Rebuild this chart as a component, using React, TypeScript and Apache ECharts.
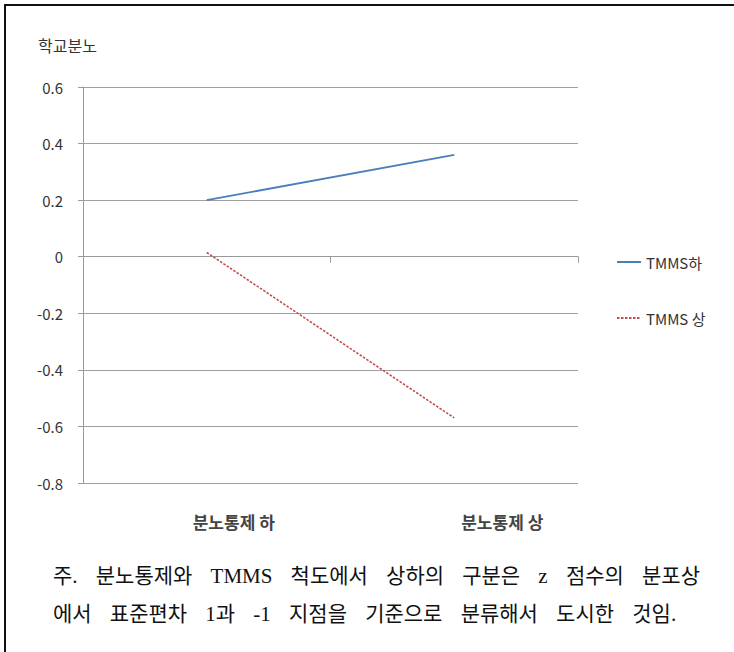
import React, { useEffect, useRef } from "react";
import * as echarts from "echarts";

const categories = ["분노통제 하", "분노통제 상"];
const seriesNames = ["TMMS하", "TMMS 상"];
const tmmsLow = [0.2, 0.36];
const tmmsHigh = [0.015, -0.57];
const yAxisTitle = "학교분노";
const noteLine1 = ["주.", "분노통제와", "TMMS", "척도에서", "상하의", "구분은", "z", "점수의", "분포상"];
const noteLine2 = ["에서", "표준편차", "1과", "-1", "지점을", "기준으로", "분류해서", "도시한", "것임."];

const SANS = "'Noto Sans CJK KR', 'Noto Sans', sans-serif";
const SERIF = "'Liberation Serif', 'Noto Sans CJK KR', serif";

export default function App() {
  const ref = useRef<HTMLDivElement>(null);
  useEffect(() => {
    document.body.style.margin = "0";
    if (!ref.current) return;
    const chart = echarts.init(ref.current, null, { renderer: "svg" });

    const noteSize = 21;
    const cv = document.createElement("canvas");
    const ctx = cv.getContext("2d")!;
    ctx.font = `${noteSize}px ${SERIF}`;
    const w1 = noteLine1.map((w) => ctx.measureText(w).width);
    const sum1 = w1.reduce((a, b) => a + b, 0);
    const startX = 53;
    const endX1 = 700;
    const gap = (endX1 - startX - sum1) / (noteLine1.length - 1);
    const noteTexts: any[] = [];
    let x = startX;
    noteLine1.forEach((w, i) => {
      noteTexts.push({
        type: "text",
        x,
        y: 576,
        style: { text: w, font: `${noteSize}px ${SERIF}`, fill: "#111", verticalAlign: "middle", align: "left" },
      });
      x += w1[i] + gap;
    });
    x = startX;
    const w2 = noteLine2.map((w) => ctx.measureText(w).width);
    noteLine2.forEach((w, i) => {
      noteTexts.push({
        type: "text",
        x,
        y: 614,
        style: { text: w, font: `${noteSize}px ${SERIF}`, fill: "#111", verticalAlign: "middle", align: "left" },
      });
      x += w2[i] + gap;
    });

    chart.setOption({
      animation: false,
      backgroundColor: "#fff",
      grid: { left: 83, right: 156, top: 87, bottom: 169, containLabel: false },
      legend: {
        orient: "vertical",
        left: 611,
        top: 249,
        itemWidth: 24,
        itemHeight: 16,
        itemGap: 40,
        itemStyle: { opacity: 0, borderWidth: 0 },
        textStyle: { fontSize: 15, color: "#333", fontFamily: SANS, lineHeight: 16 },
        data: seriesNames.map((n) => ({ name: n })),
      },
      xAxis: [
        {
          type: "category",
          data: categories,
          boundaryGap: true,
          axisLine: { onZero: true, lineStyle: { color: "#999", width: 1 } },
          axisTick: { show: true, length: 6, lineStyle: { color: "#999" } },
          axisLabel: { show: false },
          splitLine: { show: false },
        },
        {
          type: "category",
          data: categories,
          position: "bottom",
          boundaryGap: true,
          axisLine: { show: false },
          axisTick: { show: false },
          splitLine: { show: false },
          axisLabel: {
            margin: 30,
            fontSize: 17,
            fontWeight: "bold",
            color: "#444",
            fontFamily: SANS,
            formatter: (v: string, i: number) => `{c${i}|${v}}`,
            rich: {
              c0: { padding: [0, 0, 0, 54], fontSize: 17, fontWeight: "bold", color: "#444", fontFamily: SANS },
              c1: { padding: [0, 0, 0, 96], fontSize: 17, fontWeight: "bold", color: "#444", fontFamily: SANS },
            },
          },
        },
      ],
      yAxis: {
        type: "value",
        min: -0.8,
        max: 0.6,
        interval: 0.2,
        axisLine: { show: true, lineStyle: { color: "#999", width: 1 } },
        axisTick: { show: true, length: 5, lineStyle: { color: "#999" } },
        axisLabel: { margin: 20, fontSize: 15, color: "#333", fontFamily: SANS },
        splitLine: { show: true, lineStyle: { color: "#a0a0a0", width: 1.2 } },
      },
      series: [
        {
          name: seriesNames[0],
          type: "line",
          data: tmmsLow,
          xAxisIndex: 0,
          symbol: "none",
          lineStyle: { color: "#4a7ebb", width: 1.8 },
          itemStyle: { color: "#4a7ebb" },
        },
        {
          name: seriesNames[1],
          type: "line",
          data: tmmsHigh,
          xAxisIndex: 0,
          symbol: "none",
          lineStyle: { color: "#c0504d", width: 1.6, type: [2.5, 1.5] },
          itemStyle: { color: "#c0504d" },
        },
      ],
      graphic: [
        { type: "line", shape: { x1: 4, y1: 5, x2: 734, y2: 5 }, style: { stroke: "#111", lineWidth: 2 } },
        { type: "line", shape: { x1: 5, y1: 4, x2: 5, y2: 652 }, style: { stroke: "#111", lineWidth: 2 } },
        {
          type: "text",
          x: 38,
          y: 45,
          style: { text: yAxisTitle, font: `16px ${SANS}`, fill: "#333", verticalAlign: "middle", align: "left" },
        },
        ...noteTexts,
      ],
    });
    return () => chart.dispose();
  }, []);
  return <div ref={ref} style={{ width: 734, height: 652 }} />;
}
